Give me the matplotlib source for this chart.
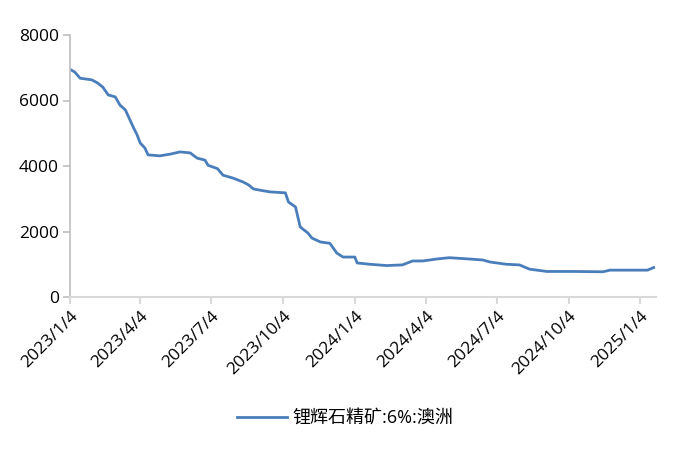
import matplotlib
matplotlib.use('Agg')
import matplotlib.pyplot as plt
import pandas as pd

plt.rcParams['font.family'] = ['Open Sans', 'Noto Sans CJK SC', 'DejaVu Sans']

# ── data ─────────────────────────────────────────────────────────────────────
dates = [
    '2023-01-04', '2023-01-10', '2023-01-17', '2023-02-01', '2023-02-08',
    '2023-02-15', '2023-02-22', '2023-03-03', '2023-03-09', '2023-03-16',
    '2023-03-22', '2023-03-26', '2023-03-31', '2023-04-04', '2023-04-10',
    '2023-04-14', '2023-04-29', '2023-05-12', '2023-05-25', '2023-06-07',
    '2023-06-16', '2023-06-26', '2023-06-30', '2023-07-12', '2023-07-19',
    '2023-08-01', '2023-08-14', '2023-08-21', '2023-08-27', '2023-09-05',
    '2023-09-17', '2023-10-07', '2023-10-11', '2023-10-20', '2023-10-26',
    '2023-11-05', '2023-11-10', '2023-11-21', '2023-12-03', '2023-12-12',
    '2023-12-20', '2024-01-04', '2024-01-07', '2024-01-23', '2024-02-14',
    '2024-03-05', '2024-03-18', '2024-03-31', '2024-04-18', '2024-05-04',
    '2024-05-30', '2024-06-16', '2024-06-25', '2024-07-16', '2024-08-02',
    '2024-08-15', '2024-09-06', '2024-10-09', '2024-11-17', '2024-11-26',
    '2025-01-13', '2025-01-21',
]
prices = [
    6950, 6870, 6680, 6630, 6540,
    6410, 6170, 6110, 5860, 5710,
    5400, 5190, 4950, 4700, 4550,
    4340, 4310, 4360, 4430, 4400,
    4240, 4180, 4020, 3920, 3720,
    3630, 3510, 3420, 3300, 3260,
    3210, 3180, 2900, 2750, 2140,
    1950, 1800, 1680, 1640, 1340,
    1220, 1220, 1040, 1000, 960,
    980, 1100, 1100, 1160, 1200,
    1160, 1130, 1070, 1000, 980,
    850, 780, 780, 770, 820,
    820, 900,
]
tick_dates = ['2023-01-04', '2023-04-04', '2023-07-04', '2023-10-04', '2024-01-04',
              '2024-04-04', '2024-07-04', '2024-10-04', '2025-01-04']
tick_labels = ['2023/1/4', '2023/4/4', '2023/7/4', '2023/10/4', '2024/1/4',
               '2024/4/4', '2024/7/4', '2024/10/4', '2025/1/4']
series_name = '锂辉石精矿:6%:澳洲'

LINE_COLOR = '#4a7ebb'
AXIS_COLOR = '#d9d9d9'

t = pd.to_datetime(dates)
ticks = pd.to_datetime(tick_dates)

fig = plt.figure(figsize=(6.89, 4.51), dpi=100)
ax = fig.add_axes([70 / 689, 1 - 297 / 451, (656 - 70) / 689, (297 - 35) / 451])

ax.plot(t, prices, color=LINE_COLOR, lw=2.0, label=series_name)

ax.set_xlim(pd.Timestamp('2023-01-04'), pd.Timestamp('2025-01-24'))
ax.set_ylim(0, 8000)
ax.set_yticks([0, 2000, 4000, 6000, 8000])
ax.set_xticks(ticks)
ax.set_xticklabels(tick_labels, rotation=45, ha='right', rotation_mode='anchor')

for s in ['top', 'right']:
    ax.spines[s].set_visible(False)
ax.spines['left'].set_color('#bfbfbf')
ax.spines['bottom'].set_color(AXIS_COLOR)
ax.spines['left'].set_linewidth(1.2)
ax.spines['bottom'].set_linewidth(1.5)
ax.tick_params(axis='y', length=5, width=1.2, color='#bfbfbf', labelsize=12.5, pad=3)
ax.tick_params(axis='x', length=5, width=1.5, color=AXIS_COLOR, labelsize=12.5, pad=3)

fig.legend(loc='center', bbox_to_anchor=(345 / 689, 1 - 418 / 451), frameon=False,
           fontsize=13, handlelength=2.8, handletextpad=0.3)

plt.savefig('out.png', dpi=100)
